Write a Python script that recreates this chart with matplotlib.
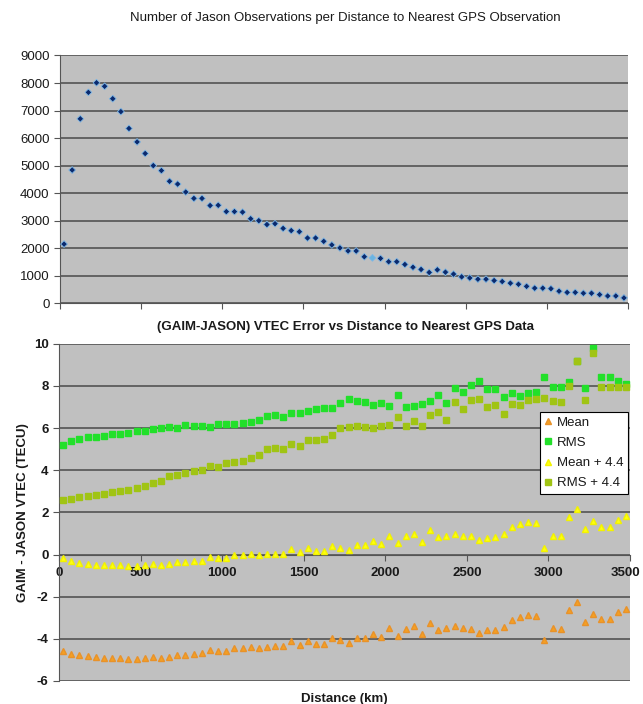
import numpy as np
import matplotlib
matplotlib.use("Agg")
import matplotlib.pyplot as plt
import matplotlib.transforms as mtransforms

plt.rcParams['font.family'] = ['Liberation Sans', 'DejaVu Sans']
plt.rcParams['axes.unicode_minus'] = False

# distance bins (km), bin centres every 50 km
distance = np.arange(25, 3500, 50)

# Jason observations per distance bin
n_obs = [2150, 4840, 6700, 7660, 8010, 7880, 7430, 6960, 6350, 5860,
         5440, 5000, 4820, 4430, 4330, 4040, 3810, 3810, 3550, 3560,
         3330, 3330, 3310, 3070, 3000, 2860, 2890, 2720, 2640, 2600,
         2370, 2370, 2250, 2120, 2010, 1900, 1900, 1690, 1650, 1630,
         1510, 1510, 1410, 1310, 1230, 1120, 1215, 1130, 1060, 960,
         920, 875, 875, 825, 790, 730, 690, 615, 550, 550,
         530, 440, 395, 395, 365, 365, 315, 265, 265, 195]
highlight_idx = 38

# GAIM - JASON VTEC error statistics (TECU)
mean_err = [-4.57, -4.70, -4.78, -4.83, -4.88, -4.90, -4.92, -4.92, -4.94, -4.94,
            -4.92, -4.86, -4.92, -4.84, -4.76, -4.75, -4.73, -4.69, -4.53, -4.57,
            -4.57, -4.42, -4.42, -4.39, -4.42, -4.39, -4.36, -4.36, -4.12, -4.29,
            -4.09, -4.23, -4.23, -3.98, -4.07, -4.18, -3.95, -3.95, -3.77, -3.91,
            -3.51, -3.87, -3.54, -3.41, -3.79, -3.24, -3.57, -3.51, -3.41, -3.51,
            -3.54, -3.70, -3.60, -3.57, -3.44, -3.11, -2.96, -2.85, -2.91, -4.07,
            -3.51, -3.54, -2.61, -2.25, -3.19, -2.80, -3.08, -3.08, -2.75, -2.59]
rms_err = [5.18, 5.41, 5.49, 5.56, 5.59, 5.63, 5.72, 5.72, 5.77, 5.88,
           5.86, 5.96, 6.00, 6.05, 5.99, 6.13, 6.11, 6.09, 6.05, 6.17,
           6.21, 6.21, 6.24, 6.27, 6.40, 6.58, 6.60, 6.52, 6.71, 6.71,
           6.79, 6.90, 6.93, 6.93, 7.20, 7.37, 7.29, 7.23, 7.09, 7.21,
           7.04, 7.56, 6.98, 7.07, 7.15, 7.29, 7.58, 7.21, 7.92, 7.70,
           8.05, 8.22, 7.84, 7.87, 7.48, 7.66, 7.53, 7.66, 7.73, 8.40,
           7.95, 7.97, 8.18, 9.20, 7.89, 9.78, 8.44, 8.41, 8.22, 8.11]
rms_shift = [2.59, 2.64, 2.72, 2.79, 2.83, 2.86, 2.98, 3.03, 3.08, 3.16,
             3.25, 3.41, 3.49, 3.71, 3.75, 3.88, 3.94, 4.00, 4.21, 4.17,
             4.32, 4.40, 4.42, 4.59, 4.70, 5.00, 5.05, 4.99, 5.26, 5.17,
             5.44, 5.45, 5.49, 5.67, 6.00, 6.05, 6.11, 6.03, 6.00, 6.11,
             6.15, 6.52, 6.11, 6.32, 6.11, 6.62, 6.74, 6.40, 7.23, 6.92,
             7.31, 7.40, 7.02, 7.09, 6.69, 7.12, 7.09, 7.34, 7.37, 7.42,
             7.28, 7.26, 8.00, 9.16, 7.32, 9.54, 7.97, 7.95, 7.95, 7.94]
mean_shift = np.array(mean_err) + 4.4

plot_bg = '#c0c0c0'
grid_c = '#4a4a4a'
text_c = '#1a1a1a'

fig = plt.figure(figsize=(6.43, 7.04), dpi=100)

# ---- top: observation counts ----
ax1 = fig.add_axes([0.0933, 0.5692, 0.8834, 0.352])
ax1.set_facecolor(plot_bg)
colors = ['#0b2a6e'] * len(n_obs)
colors[highlight_idx] = '#6ab4e0'
ax1.scatter(distance, n_obs, marker='D', s=12, c=colors,
            edgecolors='#7fb8e6', linewidths=0.6, zorder=3)
ax1.set_xlim(0, 3500)
ax1.set_ylim(0, 9000)
ax1.set_yticks(np.arange(0, 9001, 1000))
ax1.set_xticks(np.arange(0, 3501, 500))
ax1.set_xticklabels([])
ax1.yaxis.grid(True, color=grid_c, lw=1.1)
ax1.set_axisbelow(True)
for s in ['top', 'right']:
    ax1.spines[s].set_visible(False)
for s in ['left', 'bottom']:
    ax1.spines[s].set_color('#555555')
ax1.tick_params(axis='both', direction='out', length=4, color='#555555',
                labelsize=9.5, labelcolor=text_c)
fig.text(0.537, 0.974, 'Number of Jason Observations per Distance to Nearest GPS Observation',
         ha='center', va='center', fontsize=9.5, color=text_c)

# ---- bottom: VTEC error ----
ax2 = fig.add_axes([0.0918, 0.0327, 0.888, 0.479])
ax2.set_facecolor(plot_bg)
ax2.plot(distance, mean_err, ls='none', marker='^', ms=4.3, color='#f5a023',
         mec='#e8922a', zorder=3, label='Mean')
ax2.plot(distance, rms_err, ls='none', marker='s', ms=3.7, color='#22e02a',
         mec='#22e02a', zorder=3, label='RMS')
ax2.plot(distance, mean_shift, ls='none', marker='^', ms=4.3, color='#ffff10',
         mec='#f2f200', zorder=3, label='Mean + 4.4')
ax2.plot(distance, rms_shift, ls='none', marker='s', ms=3.7, color='#a0c414',
         mec='#a0c414', zorder=3, label='RMS + 4.4')
ax2.set_xlim(0, 3500)
ax2.set_ylim(-6, 10)
ax2.set_yticks(np.arange(-6, 11, 2))
ax2.set_xticks(np.arange(0, 3501, 500))
ax2.yaxis.grid(True, color=grid_c, lw=1.1)
ax2.set_axisbelow(True)
ax2.spines['bottom'].set_position(('data', 0))
for s in ['top', 'right']:
    ax2.spines[s].set_visible(False)
for s in ['left', 'bottom']:
    ax2.spines[s].set_color('#555555')
ax2.tick_params(axis='both', direction='out', length=4, color='#555555',
                labelsize=9.5, labelcolor=text_c)
ax2.tick_params(axis='x', pad=5)
for lab in ax2.get_xticklabels() + ax2.get_yticklabels():
    lab.set_fontweight('bold')
# keep the last distance label inside the figure edge
last = ax2.get_xticklabels()[-1]
last.set_transform(last.get_transform() +
                   mtransforms.ScaledTranslation(-3 / 72, 0, fig.dpi_scale_trans))
ax2.set_xlabel('Distance (km)', fontsize=9.5, fontweight='bold', color=text_c)
ax2.xaxis.set_label_coords(0.5, -0.035)
ax2.set_ylabel('GAIM - JASON VTEC (TECU)', fontsize=9.5, fontweight='bold', color=text_c)
ax2.yaxis.set_label_coords(-0.052, 0.5)
fig.text(0.537, 0.535, '(GAIM-JASON) VTEC Error vs Distance to Nearest GPS Data',
         ha='center', va='center', fontsize=9.5, fontweight='bold', color=text_c)

leg = ax2.legend(loc='upper right', bbox_to_anchor=(0.9965, 0.7975),
                 fontsize=9.5, frameon=True, fancybox=False, framealpha=1,
                 edgecolor='black', borderpad=0.35, handlelength=0.6,
                 handletextpad=0.35, labelspacing=0.6, borderaxespad=0)
leg.get_frame().set_linewidth(0.8)
for t in leg.get_texts():
    t.set_color(text_c)

fig.savefig('out.png', dpi=100)
